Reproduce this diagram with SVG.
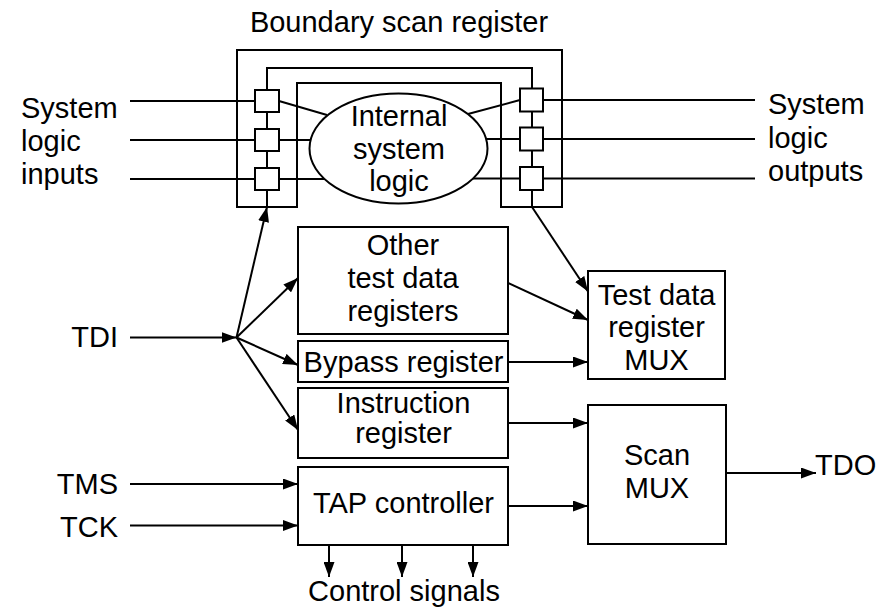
<svg xmlns="http://www.w3.org/2000/svg" width="890" height="607" viewBox="0 0 890 607">
  <defs>
    <marker id="arrow" markerUnits="userSpaceOnUse" markerWidth="15" markerHeight="11" refX="15" refY="5.5" orient="auto">
      <path d="M0,0 L15,5.5 L0,11 z" fill="#000"/>
    </marker>
    <style>
      .box { fill: #fff; stroke: #000; stroke-width: 2; }
      .wire { fill: none; stroke: #000; stroke-width: 2; }
      .arr { fill: none; stroke: #000; stroke-width: 2; marker-end: url(#arrow); }
      text { font-family: "Liberation Sans", Arial, Helvetica, sans-serif; font-size: 29px; fill: #000; }
      .c { text-anchor: middle; }
      .e { text-anchor: end; }
    </style>
  </defs>
  <rect width="890" height="607" fill="#fff"/>

  <!-- Boundary scan register: band around the core, scan chain and cells -->
  <g id="boundary-scan-register">
    <text class="c" x="399" y="32">Boundary scan register</text>
    <path class="wire" d="M237,50 H562 V207 H501 V83 H297 V207 H237 Z"/>
    <path class="wire" d="M267,207 V68 H532 V207"/>
    <!-- system pins through the cells -->
    <path class="wire" d="M130,101 H255 M130,140 H255 M130,179 H255"/>
    <path class="wire" d="M279,101 L327,115 M279,140 H311 M279,179 H325"/>
    <path class="wire" d="M468,114 L520,100 M486,139 H520 M473,178.5 H520"/>
    <path class="wire" d="M543,100 H755 M543,139 H755 M543,178.5 H755"/>
    <rect class="box" x="255" y="90" width="24" height="22"/>
    <rect class="box" x="255" y="129" width="24" height="22"/>
    <rect class="box" x="255" y="168" width="24" height="22"/>
    <rect class="box" x="520" y="88.5" width="23" height="23"/>
    <rect class="box" x="520" y="127.5" width="23" height="23"/>
    <rect class="box" x="520" y="167" width="23" height="23"/>
  </g>

  <g id="internal-system-logic">
    <ellipse class="box" cx="398.5" cy="148.5" rx="89" ry="55"/>
    <text class="c" x="399" y="126">Internal</text>
    <text class="c" x="399" y="159">system</text>
    <text class="c" x="399" y="191">logic</text>
  </g>

  <g id="system-logic-inputs">
    <text x="21" y="118">System</text>
    <text x="21" y="150.5">logic</text>
    <text x="21" y="184">inputs</text>
  </g>

  <g id="system-logic-outputs">
    <text x="768" y="114">System</text>
    <text x="768" y="148">logic</text>
    <text x="768" y="181">outputs</text>
  </g>

  <g id="other-test-data-registers">
    <rect class="box" x="298" y="227" width="210" height="107"/>
    <text class="c" x="403" y="255">Other</text>
    <text class="c" x="403" y="288">test data</text>
    <text class="c" x="403" y="321">registers</text>
  </g>

  <g id="bypass-register">
    <rect class="box" x="298" y="341" width="210" height="41"/>
    <text class="c" x="403.5" y="372">Bypass register</text>
  </g>

  <g id="instruction-register">
    <rect class="box" x="298" y="388" width="210" height="70"/>
    <text class="c" x="403.5" y="413">Instruction</text>
    <text class="c" x="403.5" y="443">register</text>
  </g>

  <g id="tap-controller">
    <rect class="box" x="298" y="467" width="210" height="78"/>
    <text class="c" x="403.5" y="513">TAP controller</text>
  </g>

  <g id="test-data-register-mux">
    <rect class="box" x="588" y="271" width="137" height="108"/>
    <text class="c" x="656.5" y="305">Test data</text>
    <text class="c" x="656.5" y="337">register</text>
    <text class="c" x="656.5" y="370">MUX</text>
  </g>

  <g id="scan-mux">
    <rect class="box" x="588" y="405" width="138" height="139"/>
    <text class="c" x="657" y="465">Scan</text>
    <text class="c" x="657" y="498">MUX</text>
  </g>

  <g id="tdi"><text class="e" x="118" y="346.5">TDI</text></g>
  <g id="tms"><text class="e" x="118" y="494">TMS</text></g>
  <g id="tck"><text class="e" x="118" y="537">TCK</text></g>
  <g id="tdo"><text x="815" y="475">TDO</text></g>
  <g id="control-signals"><text class="c" x="404" y="601">Control signals</text></g>

  <g id="connectors">
    <path class="arr" d="M130,337.5 H236.5"/>
    <path class="arr" d="M236.5,337.5 L267,207"/>
    <path class="arr" d="M236.5,337.5 L298,278"/>
    <path class="arr" d="M236.5,337.5 L298,365"/>
    <path class="arr" d="M236.5,337.5 L298,430"/>
    <path class="arr" d="M532,207 L588,291.5"/>
    <path class="arr" d="M508,283 L588,320"/>
    <path class="arr" d="M508,362 H588"/>
    <path class="arr" d="M508,423 H588"/>
    <path class="arr" d="M508,506 H588"/>
    <path class="arr" d="M130,484 H298"/>
    <path class="arr" d="M130,525.5 H298"/>
    <path class="arr" d="M726,473 H816"/>
    <path class="arr" d="M329,545 V577"/>
    <path class="arr" d="M402,545 V577"/>
    <path class="arr" d="M473,545 V577"/>
  </g>
</svg>
